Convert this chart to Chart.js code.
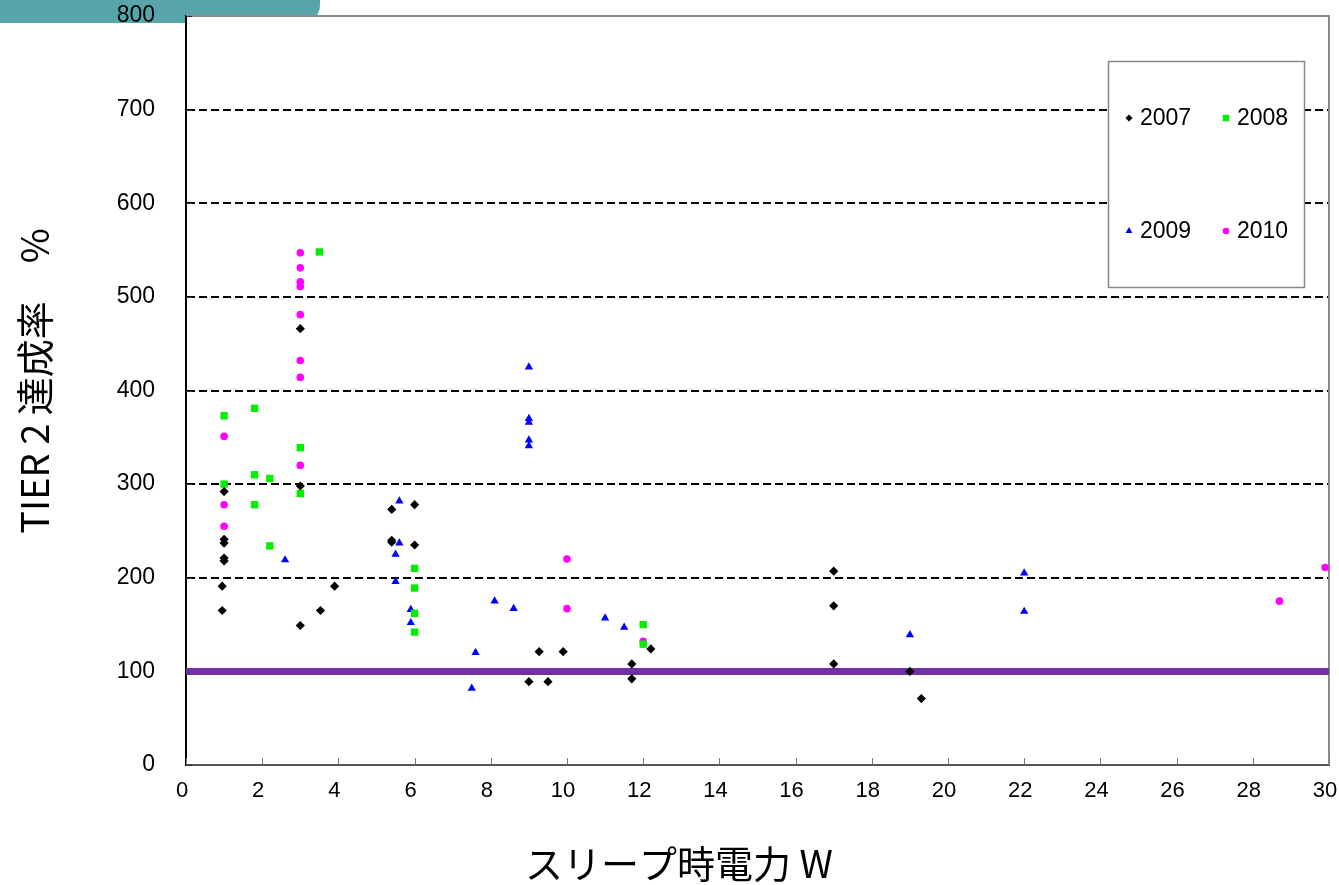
<!DOCTYPE html>
<html>
<head>
<meta charset="utf-8">
<script src="https://cdn.jsdelivr.net/npm/chart.js@4/dist/chart.umd.min.js"></script>
<style>
  html, body { margin: 0; padding: 0; background: #fff; }
  #wrap { position: relative; width: 1339px; height: 885px; }
  #tab { position: absolute; left: 0; top: 0; width: 320px; height: 23px; background: #56a5ab; border-bottom-right-radius: 18px; }
  #chart { position: absolute; left: 0; top: 0; }
</style>
</head>
<body>
<div id="wrap">
  <div id="tab"></div>
  <canvas id="chart" width="1339" height="885"></canvas>
</div>
<script>
// sleep power (W) vs TIER 2 achievement (%), one series per year
const x2007 = [1.0, 1.0, 1.0, 1.0, 1.0, 0.95, 0.95, 3.0, 3.0, 3.0, 3.53, 3.9, 5.4, 5.4, 5.4, 6.0, 6.0, 9.0, 9.27, 9.5, 9.9, 11.7, 11.7, 12.2, 17.0, 17.0, 17.0, 19.0, 19.3];
const y2007 = [292, 241, 237, 221, 218, 191, 165, 466, 298, 149, 165, 191, 273, 240, 238, 278, 235, 89, 121, 89, 121, 108, 92, 124, 207, 170, 108, 100, 71];

const x2008 = [1.0, 1.0, 1.8, 1.8, 1.8, 2.2, 2.2, 3.0, 3.0, 3.5, 6.0, 6.0, 6.0, 6.0, 12.0, 12.0];
const y2008 = [373, 300, 381, 310, 278, 306, 234, 339, 290, 548, 210, 189, 162, 142, 150, 129];

const x2009 = [2.6, 5.5, 5.5, 5.6, 5.6, 5.9, 5.9, 7.5, 7.6, 8.1, 8.6, 9.0, 9.0, 9.0, 9.0, 9.0, 11.0, 11.5, 19.0, 22.0, 22.0];
const y2009 = [219, 225, 196, 282, 237, 166, 152, 82, 120, 175, 167, 425, 370, 366, 347, 341, 157, 147, 139, 205, 164];

const x2010 = [1.0, 1.0, 1.0, 3.0, 3.0, 3.0, 3.0, 3.0, 3.0, 3.0, 3.0, 10.0, 10.0, 12.0, 28.7, 29.9];
const y2010 = [351, 278, 255, 547, 531, 516, 511, 481, 432, 414, 320, 220, 167, 132, 175, 211];

const years = ['2007', '2008', '2009', '2010'];
const targetLevel = 100;
const xRange = [0, 30];
const yRange = [0, 800];

const xTitle = 'スリープ時電力 W';
const yTitle = 'TIER 2 達成率　%';

const yTickFont = { family: 'Liberation Sans', size: 23 };
const xTickFont = { family: 'Liberation Sans', size: 22 };
const titleFont = '38px "Noto Sans CJK JP"';

const pts = (xs, ys) => xs.map((x, i) => ({ x: x, y: ys[i] }));

const series = [
  { label: years[0], data: pts(x2007, y2007), color: '#000000', style: 'rectRot', radius: 4.6, legendRadius: 3.6 },
  { label: years[1], data: pts(x2008, y2008), color: '#00ee00', style: 'rect', radius: 5.2, legendRadius: 4.6 },
  { label: years[2], data: pts(x2009, y2009), color: '#0000ff', style: 'triangle', radius: 4.8, legendRadius: 4.0 },
  { label: years[3], data: pts(x2010, y2010), color: '#ff00ff', style: 'circle', radius: 3.8, legendRadius: 3.3 }
];

const datasets = series.map(s => ({
  label: s.label,
  data: s.data,
  showLine: false,
  pointStyle: s.style,
  pointRadius: s.radius,
  pointBackgroundColor: s.color,
  pointBorderColor: s.color,
  pointBorderWidth: 0,
  order: 1
}));

// target line at 100%
datasets.push({
  label: 'target',
  data: [{ x: xRange[0], y: targetLevel }, { x: xRange[1], y: targetLevel }],
  showLine: true,
  borderColor: '#7030a0',
  borderWidth: 7,
  pointRadius: 0,
  order: 10
});

const framePlugin = {
  id: 'frame',
  beforeDraw(chart) {
    const { ctx, chartArea: a } = chart;
    ctx.save();
    ctx.fillStyle = '#fff';
    ctx.fillRect(a.left, a.top, a.right - a.left, a.bottom - a.top);
    ctx.restore();
  },
  beforeDatasetsDraw(chart) {
    const { ctx, chartArea: a, scales } = chart;
    ctx.save();
    // top and right frame
    ctx.strokeStyle = '#8a8a8a';
    ctx.lineWidth = 2;
    ctx.beginPath();
    ctx.moveTo(a.left, a.top);
    ctx.lineTo(a.right, a.top);
    ctx.lineTo(a.right, a.bottom);
    ctx.stroke();
    // short inward tick marks
    ctx.lineWidth = 1;
    ctx.strokeStyle = '#333';
    scales.y.ticks.forEach(t => {
      const y = Math.round(scales.y.getPixelForValue(t.value)) + 0.5;
      ctx.beginPath();
      ctx.moveTo(a.left, y);
      ctx.lineTo(a.left + 6, y);
      ctx.stroke();
    });
    ctx.strokeStyle = '#777';
    scales.x.ticks.forEach(t => {
      const x = Math.round(scales.x.getPixelForValue(t.value)) + 0.5;
      ctx.beginPath();
      ctx.moveTo(x, a.bottom);
      ctx.lineTo(x, a.bottom - 7);
      ctx.stroke();
    });
    ctx.restore();
  },
  afterDraw(chart) {
    const { ctx } = chart;
    ctx.save();

    // legend box, 2 x 2
    ctx.fillStyle = '#fff';
    ctx.fillRect(1108, 61, 196, 226);
    ctx.strokeStyle = '#888';
    ctx.lineWidth = 1.5;
    ctx.strokeRect(1108.5, 61.5, 196, 226);
    const slots = [[1129, 118], [1226, 118], [1129, 231], [1226, 231]];
    ctx.font = '23px "Liberation Sans"';
    ctx.textBaseline = 'middle';
    ctx.textAlign = 'left';
    series.forEach((s, i) => {
      const [mx, my] = slots[i];
      ctx.fillStyle = s.color;
      Chart.helpers.drawPoint(ctx, { pointStyle: s.style, radius: s.legendRadius, rotation: 0, borderWidth: 0 }, mx, my);
      ctx.fillStyle = '#000';
      ctx.fillText(s.label, mx + 11, my + 1);
    });

    // axis titles
    ctx.fillStyle = '#000';
    ctx.font = titleFont;
    ctx.textAlign = 'center';
    ctx.textBaseline = 'middle';
    ctx.fillText(xTitle, 679, 864);
    ctx.translate(35, 381);
    ctx.rotate(-Math.PI / 2);
    ctx.fillText(yTitle, 0, 0);
    ctx.restore();
  }
};

new Chart(document.getElementById('chart'), {
  type: 'scatter',
  data: { datasets: datasets },
  options: {
    responsive: false,
    animation: false,
    layout: { padding: { top: 16, right: 10, left: 0, bottom: 0 } },
    plugins: { legend: { display: false }, tooltip: { enabled: false } },
    scales: {
      x: {
        type: 'linear',
        min: xRange[0],
        max: xRange[1],
        ticks: { stepSize: 2, padding: 13, labelOffset: -4, color: '#000', font: xTickFont, maxRotation: 0 },
        grid: { display: false, drawTicks: false },
        border: { color: '#555', width: 2 },
        afterFit: s => {
          s.height = 120;
          s.paddingLeft = 0;
          s.paddingRight = 0;
        }
      },
      y: {
        min: yRange[0],
        max: yRange[1],
        ticks: { stepSize: 100, padding: 31, color: '#000', font: yTickFont },
        grid: {
          drawTicks: false,
          lineWidth: 2,
          color: c => (c.tick && (c.tick.value === yRange[0] || c.tick.value === yRange[1])) ? 'rgba(0,0,0,0)' : '#000'
        },
        border: { color: '#000', width: 2, dash: [8, 4] },
        afterFit: s => {
          s.width = 186;
          s.paddingTop = 0;
          s.paddingBottom = 0;
        }
      }
    }
  },
  plugins: [framePlugin]
});
</script>
</body>
</html>
